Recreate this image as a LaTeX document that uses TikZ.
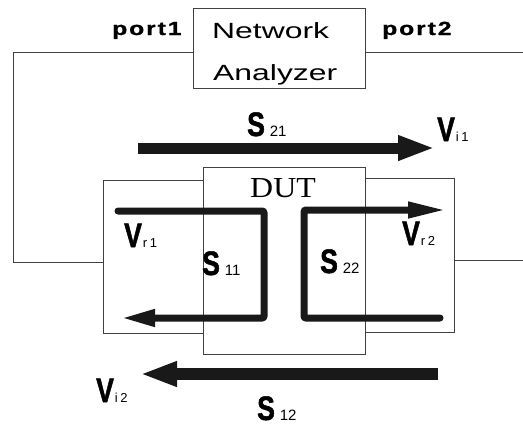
\documentclass[tikz,border=0pt]{standalone}
\usepackage{fontspec}
\setmainfont{Liberation Sans}
\newfontfamily\nafont[FakeStretch=1.45]{Liberation Sans}
\newfontfamily\dutfont[FakeStretch=1.1]{Liberation Serif}
\newfontfamily\portfont[FakeStretch=1.3,LetterSpace=10,FakeBold=1]{Liberation Sans Bold}
\newfontfamily\lblfont[FakeStretch=0.78,FakeBold=1.5]{Liberation Sans Bold}
\newfontfamily\subfont[LetterSpace=20]{Liberation Sans}
\usepackage{tikz}
\usetikzlibrary{positioning,arrows.meta,calc}

\newcommand{\Slbl}[1]{{\lblfont\fontsize{34}{35}\selectfont S}\hspace{5pt}{\fontsize{15}{16}\selectfont #1}}
\newcommand{\Vlbl}[1]{{\lblfont\fontsize{34}{35}\selectfont V}\hspace{1pt}{\subfont\fontsize{13}{14}\selectfont #1}}

\begin{document}
\begin{tikzpicture}[
  x=1pt, y=-1pt, inner sep=0pt,
  box/.style={draw=black!75,line width=0.6pt},
  wire/.style={draw=black!75,line width=0.6pt},
  lbl/.style={anchor=base west},
  fat/.style={draw=black!90,line width=11pt,-{Triangle[length=37pt,width=23pt]}},
  loop/.style={draw=black!90,line width=7pt,rounded corners=2pt,line cap=round}
]
\useasboundingbox (0,0) rectangle (523,426);
% boxes
\node[box,minimum width=172pt,minimum height=80pt] (na) at (279,48) {};
\node[box,minimum width=100pt,minimum height=153pt] (lbox) at (153,256.5) {};
\node[box,minimum width=89pt,minimum height=154pt] (rbox) at (409.5,255) {};
\node[box,minimum width=162pt,minimum height=187pt] (dut) at (284,260.5) {};
\node[lbl,font=\nafont\fontsize{22}{23}\selectfont] (net) at (212,38) {Network};
\node[lbl,font=\nafont\fontsize{22}{23}\selectfont] (ana) at (213,80) {Analyzer};
\node[anchor=base,font=\dutfont\fontsize{29}{30}\selectfont] (duttxt) at (283,197) {DUT};
\node[lbl,font=\portfont\fontsize{19}{20}\selectfont] (p1) at (112,35) {port1};
\node[lbl,font=\portfont\fontsize{19}{20}\selectfont] (p2) at (382,35) {port2};
% wires
\coordinate (e1) at (523,52);
\coordinate (e2) at (523,260);
\draw[wire] ([yshift=-4pt]na.west) -- ++(-179,0) |- ([yshift=-5.5pt]lbox.west);
\draw[wire] ([yshift=-4pt]na.east) -- (e1);
\draw[wire] ([yshift=-5pt]rbox.east) -- (e2);
% through arrows
\coordinate (a21) at (138,148);
\coordinate (b21) at (435,148);
\coordinate (a12) at (438,374);
\coordinate (b12) at (140,374);
\draw[fat] (a21) -- (b21);
\draw[fat,line width=12pt] (a12) -- (b12);
% reflected arrows
\coordinate (a11) at (118,211);
\coordinate (b11) at (121,318);
\coordinate (a22) at (440,318);
\coordinate (b22) at (447,210);
\draw[loop,-{Triangle[length=34pt,width=16pt]}] (a11) -- (264,211) -- (264,318) -- (b11);
\draw[loop,-{Triangle[length=39pt,width=15pt]}] (a22) -- (304,318) -- (304,210) -- (b22);
% labels
\node[lbl] (s21) at (247,136) {\Slbl{21}};
\node[lbl] (vi1) at (437,141) {\Vlbl{i1}};
\node[lbl] (vr1) at (124,247) {\Vlbl{r1}};
\node[lbl] (s11) at (202,275) {\Slbl{11}};
\node[lbl] (s22) at (320,273) {\Slbl{22}};
\node[lbl] (vr2) at (402,245) {\Vlbl{r2}};
\node[lbl] (vi2) at (96,402) {\Vlbl{i2}};
\node[lbl] (s12) at (257,420) {\Slbl{12}};
\end{tikzpicture}
\end{document}
